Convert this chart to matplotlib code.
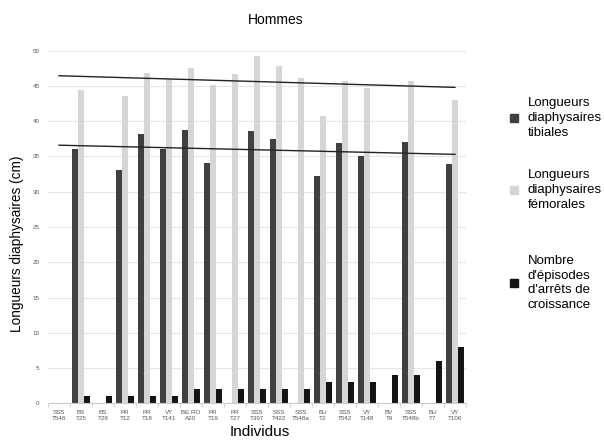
import numpy as np
import matplotlib
matplotlib.use("Agg")
import matplotlib.pyplot as plt
from matplotlib.patches import Rectangle

plt.rcParams['font.family'] = ['Liberation Sans', 'DejaVu Sans']

# Data
individus = ["SSS\nT546", "BS\nT25", "BS\nT28", "PR\nT12", "PR\nT18", "VY\nT141",
             "BE RO\nA20", "PR\nT19", "PR\nT27", "SSS\nT397", "SSS\nT422", "SSS\nT548a",
             "BU\nT2", "SSS\nT542", "VY\nT148", "BV\nT9", "SSS\nT548b", "BU\nT7", "VY\nT106"]
tibiales = [np.nan, 36.1, np.nan, 33.1, 38.2, 36.0, 38.8, 34.1, np.nan, 38.6, 37.5,
            np.nan, 32.3, 36.9, 35.0, np.nan, 37.0, np.nan, 33.9]
femorales = [np.nan, 44.4, np.nan, 43.6, 46.9, 46.0, 47.5, 45.1, 46.7, 49.2, 47.8,
             46.1, 40.7, 45.7, 44.7, np.nan, 45.7, np.nan, 43.0]
arrets = [0, 1, 1, 1, 1, 1, 2, 2, 2, 2, 2, 2, 3, 3, 3, 4, 4, 6, 8]

# linear trend lines (start / end values at first and last individual)
tendance_fem = [46.45, 44.8]
tendance_tib = [36.6, 35.3]

labels_legende = ["Longueurs\ndiaphysaires\ntibiales",
                  "Longueurs\ndiaphysaires\nfémorales",
                  "Nombre\nd'épisodes\nd'arrêts de\ncroissance"]

c_tib = "#404040"
c_fem = "#d6d6d6"
c_arr = "#141414"
couleurs = [c_tib, c_fem, c_arr]

fig = plt.figure(figsize=(6.04, 4.42), dpi=100)
ax = fig.add_axes([48 / 604, 1 - 403.3 / 442, 418 / 604, 352.6 / 442])

x = np.arange(len(individus))
w = 0.26
ax.bar(x - w, tibiales, w, color=c_tib, zorder=2)
ax.bar(x, femorales, w, color=c_fem, zorder=2)
ax.bar(x + w, arrets, w, color=c_arr, zorder=2)

ax.plot([x[0], x[-1]], tendance_fem, color="#222222", lw=1.0, zorder=3)
ax.plot([x[0], x[-1]], tendance_tib, color="#222222", lw=1.0, zorder=3)

ax.set_xlim(-0.5, len(individus) - 0.5)
ax.set_ylim(0, 50)
ax.set_yticks(np.arange(0, 51, 5))
ax.yaxis.grid(True, color="#e6e6e6", lw=0.8, zorder=0)
ax.set_axisbelow(True)
for s in ["top", "right", "left"]:
    ax.spines[s].set_visible(False)
ax.spines["bottom"].set_color("#cccccc")
ax.tick_params(axis="y", length=0, labelsize=4.5, labelcolor="#555555", pad=6)

ax.set_xticks(x)
ax.set_xticklabels(individus, fontsize=4.5, color="#555555")
ax.tick_params(axis="x", length=0, pad=5)
ax.set_xticks(np.arange(-0.5, len(individus), 1), minor=True)
ax.tick_params(axis="x", which="minor", length=3, color="#cccccc")

fig.text(276 / 604, 1 - 20 / 442, "Hommes", ha="center", va="center", fontsize=10)
fig.text(17 / 604, 1 - 244 / 442, "Longueurs diaphysaires (cm)", rotation=90,
         ha="center", va="center", fontsize=9.8)
fig.text(260 / 604, 1 - 432 / 442, "Individus", ha="center", va="center", fontsize=11)

# legend placed by hand (uneven spacing in the original)
centres = [118, 190, 283]
for lab, col, yc in zip(labels_legende, couleurs, centres):
    fig.patches.append(Rectangle((510 / 604, 1 - (yc + 4) / 442), 8 / 604, 8 / 442,
                                 transform=fig.transFigure, color=col))
    fig.text(528 / 604, 1 - yc / 442, lab, ha="left", va="center", fontsize=9.5,
             linespacing=1.3)

fig.savefig("out.png", dpi=100)
